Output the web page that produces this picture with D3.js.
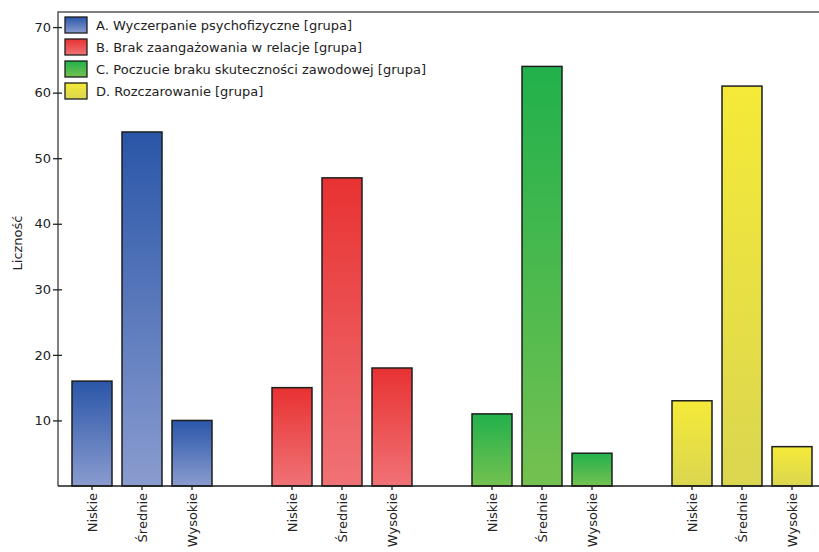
<!DOCTYPE html>
<html><head><meta charset="utf-8">
<script src="https://cdn.jsdelivr.net/npm/d3@7"></script>
<style>body{margin:0;background:#fff}svg{display:block}text{font-family:"DejaVu Sans",sans-serif;}</style>
</head><body>
<svg id="c" width="819" height="552"></svg>
<script>
const categories = ["Niskie", "Średnie", "Wysokie"];
const seriesNames = [
  "A. Wyczerpanie psychofizyczne [grupa]",
  "B. Brak zaangażowania w relacje [grupa]",
  "C. Poczucie braku skuteczności zawodowej [grupa]",
  "D. Rozczarowanie [grupa]"
];
const valuesA = [16, 54, 10];
const valuesB = [15, 47, 18];
const valuesC = [11, 64, 5];
const valuesD = [13, 61, 6];
const yTicks = [10, 20, 30, 40, 50, 60, 70];
const colorsTop = ["#2a56a8", "#e83232", "#22b14c", "#f5ea38"];
const colorsBottom = ["#8a9ccf", "#f07276", "#74c150", "#dad650"];

const series = [valuesA, valuesB, valuesC, valuesD].map((v, i) => ({name: seriesNames[i], values: v, i}));

const svg = d3.select("#c");
const pLeft = 58, pTop = 12, pBottom = 486;
const FS = 13;
const y = d3.scaleLinear().domain([0, 72.3]).range([pBottom, pTop]);
const xGroup = d3.scaleBand().domain(seriesNames).range([67, 867]).padding(0);
const xCat = d3.scaleBand().domain(categories).range([0, 150]).paddingInner(0.2).paddingOuter(0.1);

const defs = svg.append("defs");
series.forEach(s => {
  const g = defs.append("linearGradient").attr("id", "g" + s.i).attr("x1", 0).attr("y1", 0).attr("x2", 0).attr("y2", 1);
  g.append("stop").attr("offset", 0).attr("stop-color", colorsTop[s.i]);
  g.append("stop").attr("offset", 1).attr("stop-color", colorsBottom[s.i]);
});

// bars
series.forEach(s => {
  svg.append("g").selectAll("rect").data(s.values).join("rect")
    .attr("x", (d, j) => xGroup(s.name) + xCat(categories[j]))
    .attr("y", d => y(d))
    .attr("width", xCat.bandwidth())
    .attr("height", d => y(0) - y(d))
    .attr("fill", "url(#g" + s.i + ")")
    .attr("stroke", "#1e1e1e").attr("stroke-width", 1.5);
});

// frame
svg.append("path").attr("d", `M${pLeft},${pBottom}V${pTop}H819`).attr("fill", "none").attr("stroke", "#555").attr("stroke-width", 1.5);
svg.append("line").attr("x1", pLeft).attr("x2", 819).attr("y1", pBottom).attr("y2", pBottom).attr("stroke", "#1e1e1e").attr("stroke-width", 1.5);

// y axis
const yAxis = d3.axisLeft(y).tickValues(yTicks).tickSizeInner(5).tickSizeOuter(0).tickPadding(3);
const ya = svg.append("g").attr("transform", `translate(${pLeft},0)`).call(yAxis);
ya.select(".domain").remove();
ya.selectAll(".tick line").attr("x2", 4).attr("x1", -5).attr("stroke", "#222").attr("stroke-width", 1.3);
ya.selectAll(".tick text").attr("x", -7).attr("font-size", FS).attr("fill", "#222").style("font-family", "DejaVu Sans");

svg.append("text").attr("transform", `translate(22,243) rotate(-90)`).attr("text-anchor", "middle")
  .attr("font-size", FS).attr("fill", "#222").text("Liczność");

// x axes per group
series.forEach(s => {
  const ax = d3.axisBottom(xCat).tickSizeInner(4).tickSizeOuter(0).tickPadding(3);
  const g = svg.append("g").attr("transform", `translate(${xGroup(s.name)},${pBottom})`).call(ax);
  g.select(".domain").remove();
  g.selectAll(".tick line").attr("stroke", "#222").attr("stroke-width", 1.3);
  g.selectAll(".tick text").attr("transform", "rotate(-90)").attr("text-anchor", "end")
    .attr("x", -7).attr("y", 0).attr("dy", "0.35em").attr("font-size", FS).attr("fill", "#222").style("font-family", "DejaVu Sans");
});

// legend
const lg = svg.append("g");
series.forEach(s => {
  const row = lg.append("g").attr("transform", `translate(65,${17 + s.i * 22})`);
  row.append("rect").attr("width", 22).attr("height", 16).attr("fill", `url(#g${s.i})`).attr("stroke", "#1e1e1e").attr("stroke-width", 1.3);
  row.append("text").attr("x", 31).attr("y", 8).attr("dy", "0.35em").attr("font-size", FS).attr("fill", "#222").text(s.name);
});
</script>
</body></html>
